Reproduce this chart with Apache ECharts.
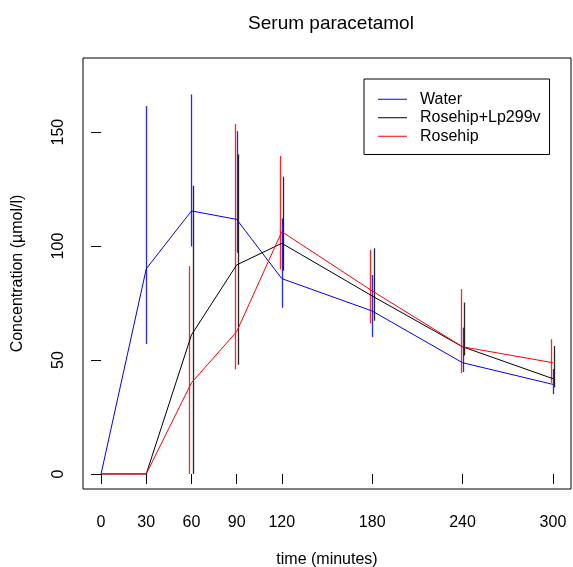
<!DOCTYPE html>
<html>
<head>
<meta charset="utf-8">
<script src="https://cdn.jsdelivr.net/npm/echarts@6/dist/echarts.min.js"></script>
<style>
html,body{margin:0;padding:0;background:#fff;}
#chart{width:573px;height:567px;}
</style>
</head>
<body>
<div id="chart"></div>
<script>
const times = [0, 30, 60, 90, 120, 180, 240, 300];
const xTicks = [0, 30, 60, 90, 120, 180, 240, 300];
const yTicks = [0, 50, 100, 150];

const waterMean = [0, 90, 115.4, 111.7, 85.7, 71.5, 48.8, 39.3];
const waterLow  = [0, 57, 99.8, 97.1, 72.9, 60, 44.7, 35];
const waterHigh = [0, 161.4, 166.5, 150.4, 112.1, 87.3, 64.2, 46];

const comboMean = [0, 0, 61, 91.7, 101.2, 78.1, 55.8, 41.8];
const comboLow  = [0, 0, 0, 47.9, 89.2, 67.2, 52, 38];
const comboHigh = [0, 0, 126.5, 140.2, 130.4, 99, 75.2, 56.1];

const roseMean = [0, 0, 40, 62.4, 106.3, 80.3, 55.8, 48.8];
const roseLow  = [0, 0, 0, 45.9, 89.8, 66.1, 44.3, 40];
const roseHigh = [0, 0, 91.2, 153.5, 139.5, 98.3, 81.1, 59.1];

const names = ['Water', 'Rosehip+Lp299v', 'Rosehip'];
const colors = ['#0000ff', '#000000', '#ff0000'];

const font = '"Liberation Sans", Arial, Helvetica, sans-serif';

function pairs(xs, ys) { return xs.map((x, i) => [x, ys[i]]); }
function barData(xs, lo, hi) { return xs.map((x, i) => [x, lo[i], hi[i]]); }

function errSeries(name, data, color, off) {
  return {
    type: 'custom',
    name: name + ' err',
    silent: true,
    z: 3,
    data: data,
    renderItem: function (params, api) {
      const x = api.value(0), lo = api.value(1), hi = api.value(2);
      if (lo === hi) return null;
      const p1 = api.coord([x, lo]);
      const p2 = api.coord([x, hi]);
      const px = Math.round(p1[0] + off) + 0.5;
      return {
        type: 'line',
        shape: { x1: px, y1: p1[1], x2: px, y2: p2[1] },
        style: { stroke: color, lineWidth: 1.3, opacity: 0.85 }
      };
    }
  };
}

function lineSeries(name, data, color) {
  return {
    type: 'line',
    name: name,
    data: data,
    showSymbol: false,
    symbol: 'none',
    z: 4,
    lineStyle: { color: color, width: 1 },
    itemStyle: { color: color },
    emphasis: { disabled: true }
  };
}

const chart = echarts.init(document.getElementById('chart'), null, { renderer: 'canvas' });
chart.setOption({
  animation: false,
  backgroundColor: '#ffffff',
  title: {
    text: 'Serum paracetamol',
    left: 326,
    textAlign: 'center',
    top: 9,
    textStyle: { fontFamily: font, fontSize: 19, fontWeight: 'normal', color: '#000' }
  },
  legend: {
    data: names,
    orient: 'vertical',
    left: 364,
    top: 79,
    icon: 'rect',
    itemWidth: 29,
    itemHeight: 1,
    itemGap: 0,
    padding: [11, 9, 9, 14],
    borderColor: '#000',
    borderWidth: 1,
    selectedMode: false,
    textStyle: { fontFamily: font, fontSize: 16, color: '#000', lineHeight: 18.5, padding: [0, 0, 0, 8] }
  },
  grid: { left: 83, top: 58, right: 2, bottom: 78, show: true, borderColor: '#000', borderWidth: 1, containLabel: false, outerBoundsMode: 'none' },
  xAxis: {
    type: 'value',
    min: -12,
    max: 312,
    name: 'time (minutes)',
    nameLocation: 'middle',
    nameGap: 63,
    nameTextStyle: { fontFamily: font, fontSize: 16, color: '#000' },
    axisLine: { show: false },
    splitLine: { show: false },
    axisTick: { show: true, inside: false, length: 10, customValues: xTicks, lineStyle: { color: '#000' } },
    axisLabel: { customValues: xTicks, margin: 26, fontFamily: font, fontSize: 16, color: '#000' }
  },
  yAxis: {
    type: 'value',
    min: -6.6,
    max: 182.5,
    name: 'Concentration (\u00b5mol/l)',
    nameLocation: 'middle',
    nameGap: 57,
    nameRotate: 90,
    nameTextStyle: { fontFamily: font, fontSize: 16, color: '#000' },
    axisLine: { show: false },
    splitLine: { show: false },
    axisTick: { show: true, inside: false, length: 10, customValues: yTicks, lineStyle: { color: '#000' } },
    axisLabel: { customValues: yTicks, rotate: 90, margin: 16, fontFamily: font, fontSize: 16, color: '#000' }
  },
  series: [
    lineSeries(names[0], pairs(times, waterMean), colors[0]),
    lineSeries(names[1], pairs(times, comboMean), colors[1]),
    lineSeries(names[2], pairs(times, roseMean), colors[2]),
    errSeries(names[0], barData(times, waterLow, waterHigh), colors[0], 0),
    errSeries(names[1], barData(times, comboLow, comboHigh), colors[1], 1.5),
    errSeries(names[2], barData(times, roseLow, roseHigh), colors[2], -2)
  ]
});
</script>
</body>
</html>
